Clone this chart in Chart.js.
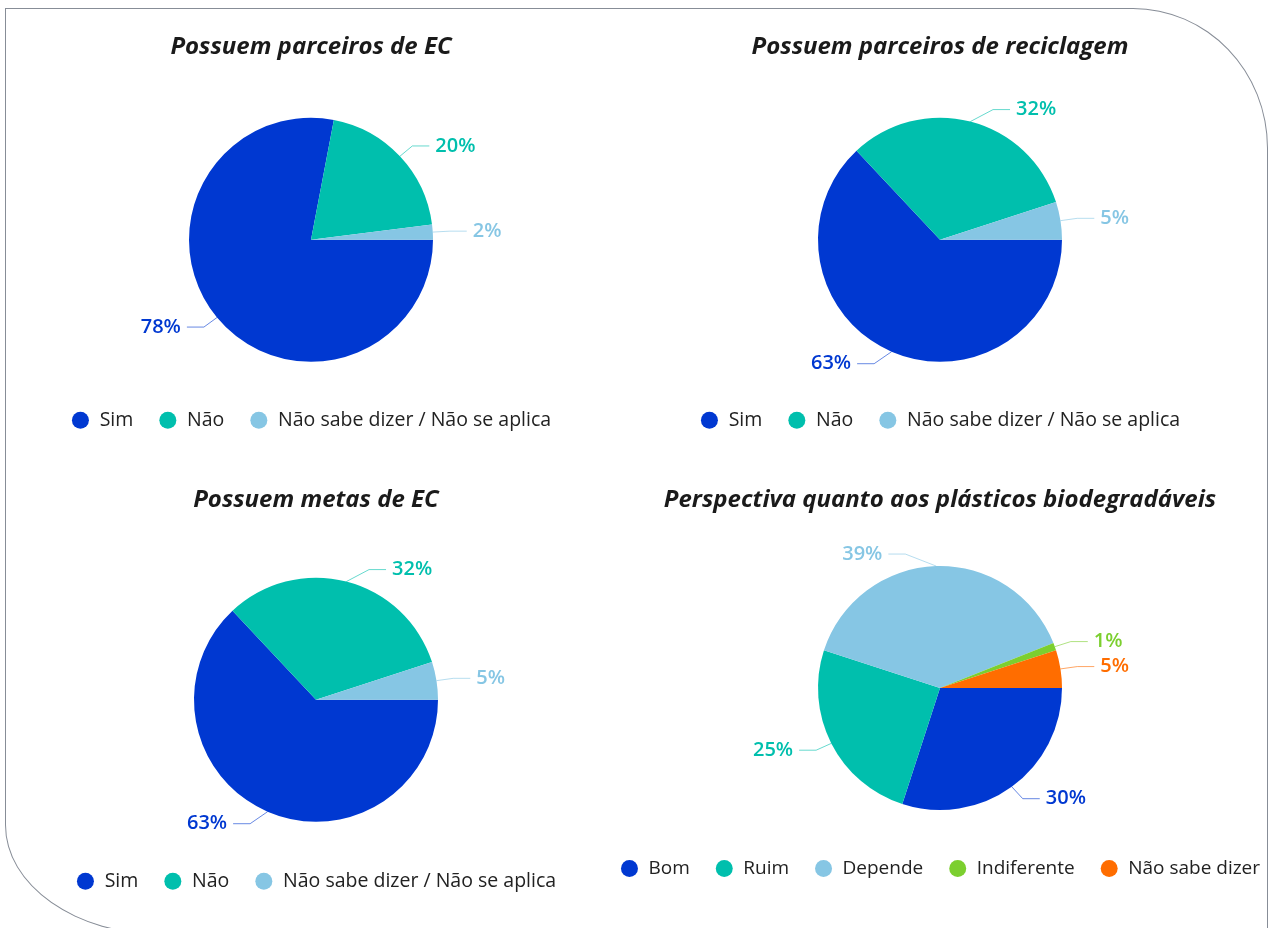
<!DOCTYPE html>
<html>
<head>
<meta charset="utf-8">
<script src="https://cdn.jsdelivr.net/npm/chart.js@4.4.1/dist/chart.umd.min.js"></script>
<style>
  html, body { margin: 0; padding: 0; background: #fff; width: 1269px; height: 928px; overflow: hidden; }
  #frame {
    position: absolute; left: 5px; top: 8px; width: 1263px; height: 927px;
    box-sizing: border-box; border: 1.5px solid #878d97;
    border-radius: 0 135px 0 157px / 0 140px 0 110px;
  }
  canvas { position: absolute; }
</style>
</head>
<body>
<div id="frame"></div>
<canvas id="c1" width="622" height="440" style="left:0px;top:0px"></canvas>
<canvas id="c2" width="600" height="440" style="left:640px;top:0px"></canvas>
<canvas id="c3" width="632" height="448" style="left:0px;top:453px"></canvas>
<canvas id="c4" width="740" height="435" style="left:570px;top:453px"></canvas>
<script>
// data
const simNaoLabels = ['Sim', 'Não', 'Não sabe dizer / Não se aplica'];
const parceirosEC = [78, 20, 2];
const parceirosReciclagem = [63, 32, 5];
const metasEC = [63, 32, 5];

const plasticosLabels = ['Bom', 'Ruim', 'Depende', 'Indiferente', 'Não sabe dizer'];
const plasticos = [30, 25, 39, 1, 5];

const simNaoColors = ['#0038D1', '#00BFAD', '#86C6E4'];
const plasticosColors = ['#0038D1', '#00BFAD', '#86C6E4', '#7CCF2F', '#FF6D00'];

const FONT = '"Open Sans", "DejaVu Sans", sans-serif';

// percent labels with Excel-like leader lines
const leaderLabels = {
  id: 'leaderLabels',
  afterDatasetsDraw(chart) {
    const ctx = chart.ctx;
    const ds = chart.data.datasets[0];
    const meta = chart.getDatasetMeta(0);
    ctx.save();
    meta.data.forEach((arc, i) => {
      const p = arc.getProps(['x', 'y', 'startAngle', 'endAngle', 'outerRadius'], true);
      const mid = (p.startAngle + p.endAngle) / 2;
      const c = Math.cos(mid), s = Math.sin(mid);
      const sx = p.x + c * p.outerRadius;
      const sy = p.y + s * p.outerRadius;
      const side = c >= 0 ? 1 : -1;
      const ex = sx + side * Math.max(Math.abs(c) * 17, 32 * Math.pow(1 - Math.abs(c), 1.2));
      const ey = sy + Math.max(-12, Math.min(12, s * 15));
      const hx = ex + side * 17;
      const color = ds.backgroundColor[i];

      ctx.globalAlpha = 0.6;
      ctx.strokeStyle = color;
      ctx.lineWidth = 1;
      ctx.beginPath();
      ctx.moveTo(sx, sy);
      ctx.lineTo(ex, ey);
      ctx.lineTo(hx, ey);
      ctx.stroke();

      ctx.globalAlpha = 1;
      ctx.fillStyle = color;
      ctx.font = '600 20px ' + FONT;
      ctx.textAlign = side > 0 ? 'left' : 'right';
      ctx.textBaseline = 'middle';
      ctx.fillText(ds.data[i] + '%', hx + side * 6, ey);
    });
    ctx.restore();
  }
};

function makePie(id, title, labels, values, colors, titleGap, legendSize) {
  const ctx = document.getElementById(id).getContext('2d');
  return new Chart(ctx, {
    type: 'pie',
    data: {
      labels: labels,
      datasets: [{
        data: values,
        backgroundColor: colors,
        borderWidth: 0,
        radius: 122,
      }],
    },
    options: {
      responsive: false,
      animation: false,
      rotation: 90,
      layout: { padding: 0 },
      plugins: {
        title: {
          display: true,
          text: title,
          color: '#1a1a1a',
          font: { family: FONT, size: 24, style: 'italic', weight: 'bold' },
          padding: { top: 32.6, bottom: titleGap },
        },
        legend: {
          position: 'bottom',
          labels: {
            usePointStyle: true,
            pointStyle: 'circle',
            boxWidth: 19,
            boxHeight: 12,
            padding: 25,
            color: '#222',
            font: { family: FONT, size: legendSize },
          },
        },
        tooltip: { enabled: false },
      },
    },
    plugins: [leaderLabels],
  });
}

makePie('c1', 'Possuem parceiros de EC', simNaoLabels, parceirosEC, simNaoColors, 32.6, 19.5);
makePie('c2', 'Possuem parceiros de reciclagem', simNaoLabels, parceirosReciclagem, simNaoColors, 32.6, 19.5);
makePie('c3', 'Possuem metas de EC', simNaoLabels, metasEC, simNaoColors, 38.6, 19.5);
makePie('c4', 'Perspectiva quanto aos plásticos biodegradáveis', plasticosLabels, plasticos, plasticosColors, 27.6, 19);
</script>
</body>
</html>
